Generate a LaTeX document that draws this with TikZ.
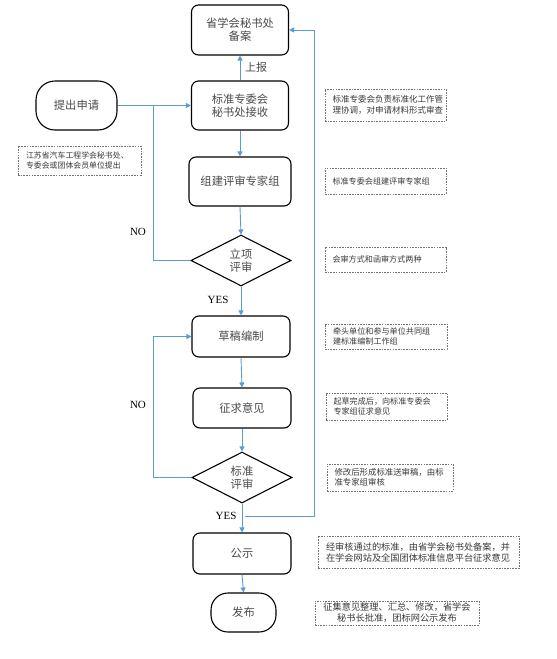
\documentclass[tikz,border=0pt]{standalone}
\usepackage{fontspec}
\setmainfont{Liberation Serif}
\newfontfamily\cjk{Noto Sans CJK SC}
\usetikzlibrary{shapes.geometric,arrows.meta}
\definecolor{flowblue}{HTML}{5B9BD5}
\definecolor{boxtext}{HTML}{4A4A4A}
\begin{document}
\begin{tikzpicture}[x=1pt,y=-1pt,
  box/.style={draw=black, line width=1.1pt, rounded corners=7pt, minimum width=98pt, minimum height=49pt,
    font=\cjk\fontsize{11.3}{13}\selectfont, text=boxtext, align=center, inner sep=0pt},
  stadium/.style={box, rounded corners=19pt},
  decision/.style={draw=black, line width=1.1pt, diamond, aspect=2, minimum width=100pt, minimum height=51pt,
    font=\cjk\fontsize{11.3}{13}\selectfont, text=boxtext, align=center, inner sep=0pt},
  note/.style={draw=black!55, line width=0.6pt, dash pattern=on 1.6pt off 1.1pt, inner sep=0pt,
    font=\cjk\fontsize{8.1}{10.5}\selectfont, text=black!78, align=left},
  flow/.style={draw=flowblue, line width=0.9pt, -{Triangle[length=5pt,width=5pt]}},
  link/.style={draw=flowblue, line width=0.9pt},
  lbl/.style={font=\fontsize{11}{13}\selectfont, text=black, inner sep=0pt}
]
\useasboundingbox (0,0) rectangle (557,659);

% main nodes
\node[box, minimum width=97pt, minimum height=50pt] (file) at (240,30) {省学会秘书处\\备案};
\node[box, minimum width=97pt, minimum height=49pt] (recv) at (240,105.5) {标准专委会\\秘书处接收};
\node[stadium, minimum width=81pt, minimum height=49pt] (apply) at (76.5,105.5) {提出申请};
\node[box, minimum width=102pt, minimum height=49pt] (expert) at (240,181.5) {组建评审专家组};
\node[decision] (rev1) at (241,260.5) {立项\\评审};
\node[box, minimum width=98pt, minimum height=41pt] (draft) at (241,336.5) {草稿编制};
\node[box, minimum width=98pt, minimum height=40pt] (opinion) at (242,408) {征求意见};
\node[decision] (rev2) at (242,477.5) {标准\\评审};
\node[box, minimum width=98pt, minimum height=41pt] (pub) at (242,553.5) {公示};
\node[stadium, rounded corners=17pt, minimum width=65pt, minimum height=39pt] (release) at (243.5,612.5) {发布};

% notes
\node[note, minimum width=123pt, minimum height=29pt, text width=107pt, font=\cjk\fontsize{7.9}{10}\selectfont] (n0) at (79.5,160.5) {江苏省汽车工程学会秘书处、\\专委会或团体会员单位提出};
\node[note, minimum width=121pt, minimum height=32pt, text width=106pt, font=\cjk\fontsize{8.5}{10.5}\selectfont] (n1) at (385.5,105) {标准专委会负责标准化工作管\\理协调，对申请材料形式审查};
\node[note, minimum width=121pt, minimum height=26pt, text width=106pt] (n2) at (385.5,181) {标准专委会组建评审专家组};
\node[note, minimum width=121pt, minimum height=25pt, text width=106pt] (n3) at (385.5,259.5) {会审方式和函审方式两种};
\node[note, minimum width=122pt, minimum height=25pt, text width=106pt] (n4) at (386,336.5) {牵头单位和参与单位共同组\\建标准编制工作组};
\node[note, minimum width=121pt, minimum height=27pt, text width=106pt] (n5) at (386.5,406.5) {起草完成后，向标准专委会\\专家组征求意见};
\node[note, minimum width=126pt, minimum height=27pt, text width=111pt, font=\cjk\fontsize{8.4}{10.5}\selectfont] (n6) at (390,477.5) {修改后形成标准送审稿，由标\\准专家组审核};
\node[note, minimum width=201pt, minimum height=32pt, text width=185pt, font=\cjk\fontsize{9.2}{11}\selectfont] (n7) at (418.5,552) {经审核通过的标准，由省学会秘书处备案，并\\在学会网站及全国团体标准信息平台征求意见};
\node[note, minimum width=164pt, minimum height=24pt, align=center, font=\cjk\fontsize{9.2}{11}\selectfont] (n8) at (397,613) {征集意见整理、汇总、修改，省学会\\秘书长批准，团标网公示发布};

% junction coordinates
\coordinate (j1) at (153,105.5);
\coordinate (j2) at (153,336.5);
\coordinate (b1) at (245,516);
\coordinate (b2) at (314,516);

% connectors
\draw[flow] (apply) -- (recv);
\draw[link] (rev1.west) -| (j1);
\draw[flow] (recv.north) -- (recv.north |- file.south);
\draw[flow] (recv.south) -- (recv.south |- expert.north);
\draw[flow] (expert.south) -- (rev1.north);
\draw[flow] (rev1.south) -- (rev1.south |- draft.north);
\draw[flow] (draft.south) -- (opinion.north);
\draw[flow] (opinion.south) -- (rev2.north);
\draw[link] (rev2.west) -| (j2);
\draw[flow] (j2) -- (draft.west);
\draw[flow] (rev2.south) -- (rev2.south |- pub.north);
\draw[flow] (pub.south) -- (release.north);
\draw[flow] (b1) -- (b2) |- (file.east);

% labels
\node[lbl, font=\cjk\fontsize{11}{13}\selectfont, text=boxtext] (up) at (256,67) {上报};
\node[lbl] (no1) at (138,232) {NO};
\node[lbl] (yes1) at (218,300) {YES};
\node[lbl] (no2) at (138,405) {NO};
\node[lbl] (yes2) at (226,516) {YES};
\end{tikzpicture}
\end{document}
